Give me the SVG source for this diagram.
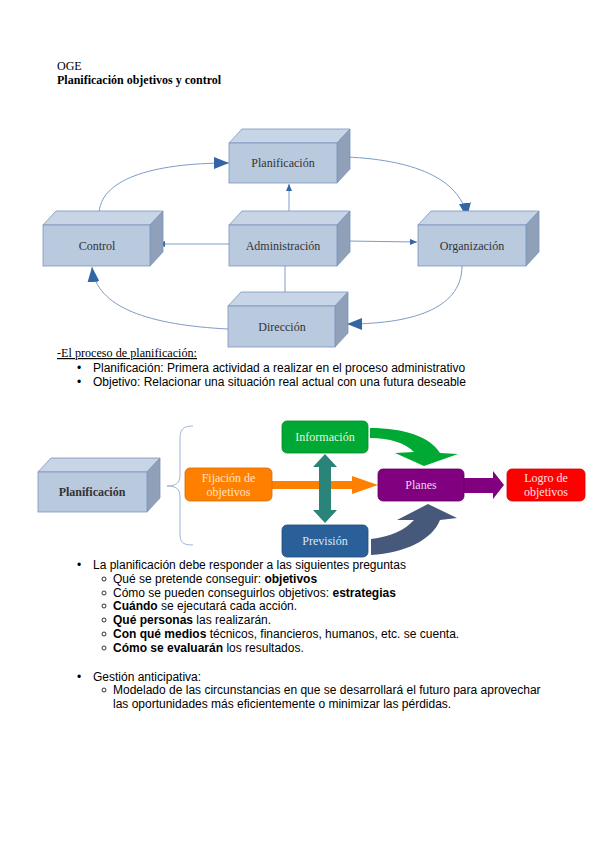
<svg xmlns="http://www.w3.org/2000/svg" width="599" height="848" viewBox="0 0 599 848">
<style>
.front{fill:#b9c9de;stroke:#7a96bd;stroke-width:0.8}
.top{fill:#c8d5e7;stroke:#7a96bd;stroke-width:0.8}
.side{fill:#8fa0b8;stroke:#7a96bd;stroke-width:0.8}
.lbl{font-family:"Liberation Serif",serif;font-size:12px;fill:#333;text-anchor:middle}
.wl{font-family:"Liberation Serif",serif;font-size:12px;text-anchor:middle}
.body{font-family:"Liberation Sans",Arial,sans-serif;font-size:12px;fill:#000}
.hd{font-family:"Liberation Serif",serif;font-size:12px;fill:#000}
.con{fill:none;stroke:#7d9cc8;stroke-width:1}
.sb{fill:none;stroke:#000;stroke-width:0.8}
</style>
<defs>
<marker id="big" viewBox="0 0 15 12" refX="15" refY="6" markerWidth="15" markerHeight="12" markerUnits="userSpaceOnUse" orient="auto">
<path d="M0 0 L15 6 L0 12 Z" fill="#3465a4"/>
</marker>
<marker id="sm" viewBox="0 0 7 6" refX="7" refY="3" markerWidth="7" markerHeight="6" markerUnits="userSpaceOnUse" orient="auto">
<path d="M0 0 L7 3 L0 6 Z" fill="#3465a4"/>
</marker>
</defs>
<rect width="599" height="848" fill="#fff"/>

<text class="hd" x="57" y="70">OGE</text>
<text class="hd" x="57" y="84" font-weight="bold">Planificación objetivos y control</text>

<g id="connectors">
<path class="con" d="M99 215 C 99 180, 150 163, 229 163" marker-end="url(#big)"/>
<path class="con" d="M346 157 C 420 160, 462 182, 467 218" marker-end="url(#big)"/>
<path class="con" d="M462 266 C 462 305, 420 324, 347 324" marker-end="url(#big)"/>
<path class="con" d="M228 329 C 150 325, 96 308, 92 267" marker-end="url(#big)"/>
<path class="con" d="M289 217 L289 184" marker-end="url(#sm)"/>
<path class="con" d="M229 244 L158 244" marker-end="url(#sm)"/>
<path class="con" d="M346 241 L417 242" marker-end="url(#sm)"/>
<path class="con" d="M285 266 L285 300" marker-end="url(#sm)"/>
</g>

<g id="planificacion">
<polygon class="top" points="229,143 242,129 350,129 337,143"/>
<polygon class="side" points="337,143 350,129 350,169 337,183"/>
<rect class="front" x="229" y="143" width="108" height="40"/>
<text class="lbl" x="283" y="167">Planificación</text>
</g>
<g id="control">
<polygon class="top" points="43,225 56,211 163,211 150,225"/>
<polygon class="side" points="150,225 163,211 163,252 150,266"/>
<rect class="front" x="43" y="225" width="107" height="41"/>
<text class="lbl" x="97" y="250">Control</text>
</g>
<g id="administracion">
<polygon class="top" points="229,225 242,211 350,211 337,225"/>
<polygon class="side" points="337,225 350,211 350,252 337,266"/>
<rect class="front" x="229" y="225" width="108" height="41"/>
<text class="lbl" x="283" y="250">Administración</text>
</g>
<g id="organizacion">
<polygon class="top" points="418,225 431,211 539,211 526,225"/>
<polygon class="side" points="526,225 539,211 539,252 526,266"/>
<rect class="front" x="418" y="225" width="108" height="41"/>
<text class="lbl" x="472" y="250">Organización</text>
</g>
<g id="direccion">
<polygon class="top" points="228,306 241,292 348,292 335,306"/>
<polygon class="side" points="335,306 348,292 348,333 335,347"/>
<rect class="front" x="228" y="306" width="107" height="41"/>
<text class="lbl" x="282" y="331">Dirección</text>
</g>

<text class="hd" x="57" y="357" font-size="11.5" text-decoration="underline" textLength="140" lengthAdjust="spacingAndGlyphs">-El proceso de planificación:</text>
<text class="body" x="77" y="372">•</text>
<text class="body" x="93" y="372">Planificación: Primera actividad a realizar en el proceso administrativo</text>
<text class="body" x="77" y="386">•</text>
<text class="body" x="93" y="386">Objetivo: Relacionar una situación real actual con una futura deseable</text>

<g id="planificacion2">
<polygon class="top" points="38,472 51,458 160,458 147,472"/>
<polygon class="side" points="147,472 160,458 160,498 147,512"/>
<rect class="front" x="38" y="472" width="109" height="40"/>
<text class="lbl" x="92" y="496" font-weight="bold">Planificación</text>
</g>

<g id="brace">
<path d="M193 426 C 182 426, 180 430, 180 440 L 180 475 C 180 483, 176 486, 167 486 C 176 486, 180 489, 180 497 L 180 533 C 180 542, 182 545, 193 545" fill="none" stroke="#9db5d8" stroke-width="1"/>
</g>

<g id="arrows2">
<path d="M272 481 L352 481 L352 476 L378 485 L352 494 L352 489 L272 489 Z" fill="#ff8000"/>
<path d="M325 454 L337 467 L331 467 L331 510 L337 510 L325 523 L313 510 L319 510 L319 467 L313 467 Z" fill="#2b8479"/>
<path d="M370 428 C 405 428, 430 437, 440 453 L 458 454 L 424 466 L 395 453 L 414 452 C 405 443, 390 438, 370 438 Z" fill="#00a933"/>
<path d="M371 555 C 405 553, 432 540, 440 520 L 457 518 L 428 504 L 397 520 L 414 520 C 405 530, 390 537, 371 539 Z" fill="#46597a"/>
<path d="M464 478 L493 478 L493 471 L504 485 L493 499 L493 493 L464 493 Z" fill="#800080"/>
</g>

<g id="fijacion">
<rect x="185" y="468" width="87" height="33" rx="5" fill="#ff8000" stroke="#d86a00" stroke-width="0.8"/>
<text class="wl" x="228.5" y="482" fill="#ffe3c8">Fijación de</text>
<text class="wl" x="228.5" y="496" fill="#ffe3c8">objetivos</text>
</g>
<g id="informacion">
<rect x="282" y="421" width="86" height="32" rx="5" fill="#00a933" stroke="#008a29" stroke-width="0.8"/>
<text class="wl" x="325" y="441" fill="#e3f7e3">Información</text>
</g>
<g id="prevision">
<rect x="282" y="525" width="86" height="32" rx="5" fill="#2a6099" stroke="#1e4a78" stroke-width="0.8"/>
<text class="wl" x="325" y="545" fill="#dde6f2">Previsión</text>
</g>
<g id="planes">
<rect x="378" y="469" width="86" height="32" rx="5" fill="#800080" stroke="#600060" stroke-width="0.8"/>
<text class="wl" x="421" y="489" fill="#ecd6ec">Planes</text>
</g>
<g id="logro">
<rect x="507" y="469" width="78" height="32" rx="5" fill="#ff0000" stroke="#d00000" stroke-width="0.8"/>
<text class="wl" x="546" y="482" fill="#ffe0e0">Logro de</text>
<text class="wl" x="546" y="496" fill="#ffe0e0">objetivos</text>
</g>

<text class="body" x="77" y="569">•</text>
<text class="body" x="93" y="569">La planificación debe responder a las siguientes preguntas</text>
<circle class="sb" cx="104" cy="579" r="2"/>
<text class="body" x="113" y="583">Qué se pretende conseguir: <tspan font-weight="bold">objetivos</tspan></text>
<circle class="sb" cx="104" cy="593" r="2"/>
<text class="body" x="113" y="597">Cómo se pueden conseguirlos objetivos: <tspan font-weight="bold">estrategias</tspan></text>
<circle class="sb" cx="104" cy="606" r="2"/>
<text class="body" x="113" y="610"><tspan font-weight="bold">Cuándo</tspan> se ejecutará cada acción.</text>
<circle class="sb" cx="104" cy="620" r="2"/>
<text class="body" x="113" y="624"><tspan font-weight="bold">Qué personas</tspan> las realizarán.</text>
<circle class="sb" cx="104" cy="634" r="2"/>
<text class="body" x="113" y="638"><tspan font-weight="bold">Con qué medios</tspan> técnicos, financieros, humanos, etc. se cuenta.</text>
<circle class="sb" cx="104" cy="648" r="2"/>
<text class="body" x="113" y="652"><tspan font-weight="bold">Cómo se evaluarán</tspan> los resultados.</text>

<text class="body" x="77" y="681">•</text>
<text class="body" x="93" y="681">Gestión anticipativa:</text>
<circle class="sb" cx="104" cy="690" r="2"/>
<text class="body" x="113" y="694">Modelado de las circunstancias en que se desarrollará el futuro para aprovechar</text>
<text class="body" x="113" y="708">las oportunidades más eficientemente o minimizar las pérdidas.</text>
</svg>
